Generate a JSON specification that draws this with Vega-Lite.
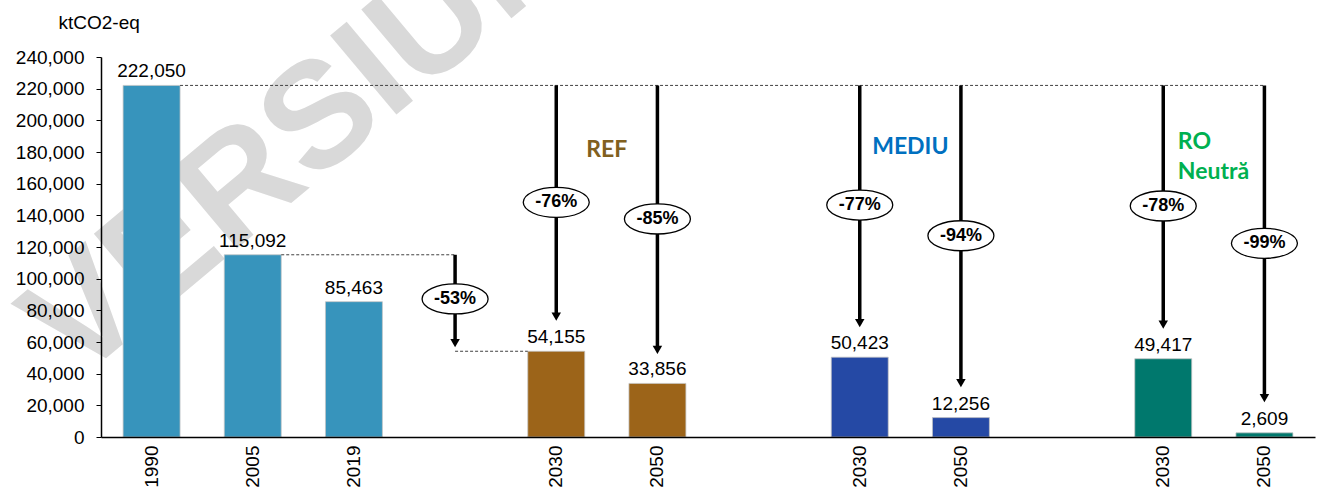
{
  "$schema": "https://vega.github.io/schema/vega-lite/v6.json",
  "autosize": {"type": "none"},
  "padding": {"left": 101, "top": 57, "right": 11, "bottom": 50},
  "width": 1214,
  "height": 380,
  "background": "white",
  "config": {"view": {"stroke": null}, "font": "Liberation Sans"},
  "datasets": {
    "bars": [
      {"cat": "1990", "v": 222050, "grp": "hist"},
      {"cat": "2005", "v": 115092, "grp": "hist"},
      {"cat": "2019", "v": 85463, "grp": "hist"},
      {"cat": "REF 2030", "v": 54155, "grp": "REF"},
      {"cat": "REF 2050", "v": 33856, "grp": "REF"},
      {"cat": "MEDIU 2030", "v": 50423, "grp": "MEDIU"},
      {"cat": "MEDIU 2050", "v": 12256, "grp": "MEDIU"},
      {"cat": "RO 2030", "v": 49417, "grp": "RO"},
      {"cat": "RO 2050", "v": 2609, "grp": "RO"}
    ],
    "arrows": [
      {"cat": "g1", "top": 115092, "head": 59300, "lab": 87200, "pct": "-53%"},
      {"cat": "REF 2030", "top": 222050, "head": 76000, "lab": 148200, "pct": "-76%"},
      {"cat": "REF 2050", "top": 222050, "head": 55000, "lab": 137700, "pct": "-85%"},
      {"cat": "MEDIU 2030", "top": 222050, "head": 71900, "lab": 146500, "pct": "-77%"},
      {"cat": "MEDIU 2050", "top": 222050, "head": 34000, "lab": 127100, "pct": "-94%"},
      {"cat": "RO 2030", "top": 222050, "head": 71000, "lab": 145900, "pct": "-78%"},
      {"cat": "RO 2050", "top": 222050, "head": 24500, "lab": 122300, "pct": "-99%"}
    ],
    "dashA": [
      {"cat": "1990", "cat2": "RO 2050", "y": 222050},
      {"cat": "2005", "cat2": "g1", "y": 115092}
    ],
    "dashB": [
      {"cat": "g1", "cat2": "REF 2030", "y": 54155}
    ],
    "scen": [
      {"cat": "REF 2030", "y": 181300, "t": "REF", "c": "REF"},
      {"cat": "MEDIU 2030", "y": 183400, "t": "MEDIU", "c": "MEDIU"}
    ],
    "scenRO": [
      {"cat": "RO 2030", "y": 186500, "t": "RO\nNeutră"}
    ],
    "wm": [
      {"cat": "1990", "y": 20800, "t": "VERSIUNE"}
    ]
  },
  "layer": [
    {
      "data": {"name": "wm"},
      "mark": {"type": "text", "font": "Liberation Sans", "fontWeight": "bold", "fontSize": 150, "angle": -40, "align": "left", "baseline": "alphabetic", "color": "#d9d9d9", "dx": -23, "dy": -46},
      "encoding": {
        "x": {"field": "cat", "type": "nominal", "bandPosition": 0, "scale": {"domain": ["1990", "2005", "2019", "g1", "REF 2030", "REF 2050", "g2", "MEDIU 2030", "MEDIU 2050", "g3", "RO 2030", "RO 2050"], "paddingInner": 0.437, "paddingOuter": 0.2185}, "axis": {"title": null, "ticks": false, "domainColor": "black", "domainWidth": 1.5, "labelAngle": 270, "labelFontSize": 19, "labelFont": "Liberation Sans", "labelColor": "black", "labelPadding": 8, "labelOverlap": false, "labelExpr": "indexof(datum.value, 'g') == 0 ? '' : slice(datum.value, -4)", "zindex": 1}},
        "y": {"field": "y", "type": "quantitative", "scale": {"domain": [0, 240000], "nice": false}, "axis": {"values": [0, 20000, 40000, 60000, 80000, 100000, 120000, 140000, 160000, 180000, 200000, 220000, 240000], "format": ",.0f", "grid": false, "domainColor": "black", "domainWidth": 1.5, "tickColor": "black", "tickSize": 5, "labelFontSize": 19, "labelFont": "Liberation Sans", "labelColor": "black", "labelPadding": 12, "labelFlush": false, "labelOverlap": false, "title": "ktCO2-eq", "titleAngle": 0, "titleAlign": "left", "titleBaseline": "alphabetic", "titleX": -43, "titleY": -29, "titleFontSize": 19, "titleFont": "Liberation Sans", "titleFontWeight": "normal", "titleColor": "black", "zindex": 1}},
        "text": {"field": "t"}
      }
    },
    {
      "data": {"name": "bars"},
      "mark": {"type": "bar", "stroke": "#c4c4c4", "strokeWidth": 0.75},
      "encoding": {
        "x": {"field": "cat", "type": "nominal", "scale": {"domain": ["1990", "2005", "2019", "g1", "REF 2030", "REF 2050", "g2", "MEDIU 2030", "MEDIU 2050", "g3", "RO 2030", "RO 2050"], "paddingInner": 0.437, "paddingOuter": 0.2185}, "axis": {"title": null, "ticks": false, "domainColor": "black", "domainWidth": 1.5, "labelAngle": 270, "labelFontSize": 19, "labelFont": "Liberation Sans", "labelColor": "black", "labelPadding": 8, "labelOverlap": false, "labelExpr": "indexof(datum.value, 'g') == 0 ? '' : slice(datum.value, -4)", "zindex": 1}},
        "y": {"field": "v", "type": "quantitative", "axis": {"values": [0, 20000, 40000, 60000, 80000, 100000, 120000, 140000, 160000, 180000, 200000, 220000, 240000], "format": ",.0f", "grid": false, "domainColor": "black", "domainWidth": 1.5, "tickColor": "black", "tickSize": 5, "labelFontSize": 19, "labelFont": "Liberation Sans", "labelColor": "black", "labelPadding": 12, "labelFlush": false, "labelOverlap": false, "title": "ktCO2-eq", "titleAngle": 0, "titleAlign": "left", "titleBaseline": "alphabetic", "titleX": -43, "titleY": -29, "titleFontSize": 19, "titleFont": "Liberation Sans", "titleFontWeight": "normal", "titleColor": "black", "zindex": 1}},
        "color": {"field": "grp", "type": "nominal", "scale": {"domain": ["hist", "REF", "MEDIU", "RO"], "range": ["#3794BC", "#9C6419", "#2549A5", "#00786D"]}, "legend": null}
      }
    },
    {
      "data": {"name": "bars"},
      "mark": {"type": "text", "fontSize": 19, "font": "Liberation Sans", "color": "black", "baseline": "alphabetic", "dy": -8},
      "encoding": {
        "x": {"field": "cat", "type": "nominal", "scale": {"domain": ["1990", "2005", "2019", "g1", "REF 2030", "REF 2050", "g2", "MEDIU 2030", "MEDIU 2050", "g3", "RO 2030", "RO 2050"], "paddingInner": 0.437, "paddingOuter": 0.2185}, "axis": {"title": null, "ticks": false, "domainColor": "black", "domainWidth": 1.5, "labelAngle": 270, "labelFontSize": 19, "labelFont": "Liberation Sans", "labelColor": "black", "labelPadding": 8, "labelOverlap": false, "labelExpr": "indexof(datum.value, 'g') == 0 ? '' : slice(datum.value, -4)", "zindex": 1}},
        "y": {"field": "v", "type": "quantitative", "axis": {"values": [0, 20000, 40000, 60000, 80000, 100000, 120000, 140000, 160000, 180000, 200000, 220000, 240000], "format": ",.0f", "grid": false, "domainColor": "black", "domainWidth": 1.5, "tickColor": "black", "tickSize": 5, "labelFontSize": 19, "labelFont": "Liberation Sans", "labelColor": "black", "labelPadding": 12, "labelFlush": false, "labelOverlap": false, "title": "ktCO2-eq", "titleAngle": 0, "titleAlign": "left", "titleBaseline": "alphabetic", "titleX": -43, "titleY": -29, "titleFontSize": 19, "titleFont": "Liberation Sans", "titleFontWeight": "normal", "titleColor": "black", "zindex": 1}},
        "text": {"field": "v", "type": "quantitative", "format": ","}
      }
    },
    {
      "data": {"name": "dashA"},
      "mark": {"type": "rule", "color": "#404040", "strokeWidth": 1, "strokeDash": [3, 2]},
      "encoding": {
        "x": {"field": "cat", "type": "nominal", "bandPosition": 1, "scale": {"domain": ["1990", "2005", "2019", "g1", "REF 2030", "REF 2050", "g2", "MEDIU 2030", "MEDIU 2050", "g3", "RO 2030", "RO 2050"], "paddingInner": 0.437, "paddingOuter": 0.2185}, "axis": {"title": null, "ticks": false, "domainColor": "black", "domainWidth": 1.5, "labelAngle": 270, "labelFontSize": 19, "labelFont": "Liberation Sans", "labelColor": "black", "labelPadding": 8, "labelOverlap": false, "labelExpr": "indexof(datum.value, 'g') == 0 ? '' : slice(datum.value, -4)", "zindex": 1}},
        "x2": {"field": "cat2", "bandPosition": 0.5},
        "y": {"field": "y", "type": "quantitative", "axis": {"values": [0, 20000, 40000, 60000, 80000, 100000, 120000, 140000, 160000, 180000, 200000, 220000, 240000], "format": ",.0f", "grid": false, "domainColor": "black", "domainWidth": 1.5, "tickColor": "black", "tickSize": 5, "labelFontSize": 19, "labelFont": "Liberation Sans", "labelColor": "black", "labelPadding": 12, "labelFlush": false, "labelOverlap": false, "title": "ktCO2-eq", "titleAngle": 0, "titleAlign": "left", "titleBaseline": "alphabetic", "titleX": -43, "titleY": -29, "titleFontSize": 19, "titleFont": "Liberation Sans", "titleFontWeight": "normal", "titleColor": "black", "zindex": 1}}
      }
    },
    {
      "data": {"name": "dashB"},
      "mark": {"type": "rule", "color": "#404040", "strokeWidth": 1, "strokeDash": [3, 2]},
      "encoding": {
        "x": {"field": "cat", "type": "nominal", "bandPosition": 0.5, "scale": {"domain": ["1990", "2005", "2019", "g1", "REF 2030", "REF 2050", "g2", "MEDIU 2030", "MEDIU 2050", "g3", "RO 2030", "RO 2050"], "paddingInner": 0.437, "paddingOuter": 0.2185}, "axis": {"title": null, "ticks": false, "domainColor": "black", "domainWidth": 1.5, "labelAngle": 270, "labelFontSize": 19, "labelFont": "Liberation Sans", "labelColor": "black", "labelPadding": 8, "labelOverlap": false, "labelExpr": "indexof(datum.value, 'g') == 0 ? '' : slice(datum.value, -4)", "zindex": 1}},
        "x2": {"field": "cat2", "bandPosition": 0},
        "y": {"field": "y", "type": "quantitative", "axis": {"values": [0, 20000, 40000, 60000, 80000, 100000, 120000, 140000, 160000, 180000, 200000, 220000, 240000], "format": ",.0f", "grid": false, "domainColor": "black", "domainWidth": 1.5, "tickColor": "black", "tickSize": 5, "labelFontSize": 19, "labelFont": "Liberation Sans", "labelColor": "black", "labelPadding": 12, "labelFlush": false, "labelOverlap": false, "title": "ktCO2-eq", "titleAngle": 0, "titleAlign": "left", "titleBaseline": "alphabetic", "titleX": -43, "titleY": -29, "titleFontSize": 19, "titleFont": "Liberation Sans", "titleFontWeight": "normal", "titleColor": "black", "zindex": 1}}
      }
    },
    {
      "data": {"name": "arrows"},
      "mark": {"type": "rule", "color": "black", "strokeWidth": 3.5},
      "encoding": {
        "x": {"field": "cat", "type": "nominal", "scale": {"domain": ["1990", "2005", "2019", "g1", "REF 2030", "REF 2050", "g2", "MEDIU 2030", "MEDIU 2050", "g3", "RO 2030", "RO 2050"], "paddingInner": 0.437, "paddingOuter": 0.2185}, "axis": {"title": null, "ticks": false, "domainColor": "black", "domainWidth": 1.5, "labelAngle": 270, "labelFontSize": 19, "labelFont": "Liberation Sans", "labelColor": "black", "labelPadding": 8, "labelOverlap": false, "labelExpr": "indexof(datum.value, 'g') == 0 ? '' : slice(datum.value, -4)", "zindex": 1}},
        "y": {"field": "top", "type": "quantitative", "axis": {"values": [0, 20000, 40000, 60000, 80000, 100000, 120000, 140000, 160000, 180000, 200000, 220000, 240000], "format": ",.0f", "grid": false, "domainColor": "black", "domainWidth": 1.5, "tickColor": "black", "tickSize": 5, "labelFontSize": 19, "labelFont": "Liberation Sans", "labelColor": "black", "labelPadding": 12, "labelFlush": false, "labelOverlap": false, "title": "ktCO2-eq", "titleAngle": 0, "titleAlign": "left", "titleBaseline": "alphabetic", "titleX": -43, "titleY": -29, "titleFontSize": 19, "titleFont": "Liberation Sans", "titleFontWeight": "normal", "titleColor": "black", "zindex": 1}},
        "y2": {"field": "head"}
      }
    },
    {
      "data": {"name": "arrows"},
      "mark": {"type": "point", "shape": "triangle-down", "size": 90, "filled": true, "color": "black", "opacity": 1},
      "encoding": {
        "x": {"field": "cat", "type": "nominal", "scale": {"domain": ["1990", "2005", "2019", "g1", "REF 2030", "REF 2050", "g2", "MEDIU 2030", "MEDIU 2050", "g3", "RO 2030", "RO 2050"], "paddingInner": 0.437, "paddingOuter": 0.2185}, "axis": {"title": null, "ticks": false, "domainColor": "black", "domainWidth": 1.5, "labelAngle": 270, "labelFontSize": 19, "labelFont": "Liberation Sans", "labelColor": "black", "labelPadding": 8, "labelOverlap": false, "labelExpr": "indexof(datum.value, 'g') == 0 ? '' : slice(datum.value, -4)", "zindex": 1}},
        "y": {"field": "head", "type": "quantitative", "axis": {"values": [0, 20000, 40000, 60000, 80000, 100000, 120000, 140000, 160000, 180000, 200000, 220000, 240000], "format": ",.0f", "grid": false, "domainColor": "black", "domainWidth": 1.5, "tickColor": "black", "tickSize": 5, "labelFontSize": 19, "labelFont": "Liberation Sans", "labelColor": "black", "labelPadding": 12, "labelFlush": false, "labelOverlap": false, "title": "ktCO2-eq", "titleAngle": 0, "titleAlign": "left", "titleBaseline": "alphabetic", "titleX": -43, "titleY": -29, "titleFontSize": 19, "titleFont": "Liberation Sans", "titleFontWeight": "normal", "titleColor": "black", "zindex": 1}}
      }
    },
    {
      "data": {"name": "arrows"},
      "mark": {"type": "point", "shape": "M-1,0C-1,-0.2513,-0.5523,-0.455,0,-0.455C0.5523,-0.455,1,-0.2513,1,0C1,0.2513,0.5523,0.455,0,0.455C-0.5523,0.455,-1,0.2513,-1,0Z", "size": 4356, "filled": true, "fill": "white", "stroke": "black", "strokeWidth": 1.3, "opacity": 1},
      "encoding": {
        "x": {"field": "cat", "type": "nominal", "scale": {"domain": ["1990", "2005", "2019", "g1", "REF 2030", "REF 2050", "g2", "MEDIU 2030", "MEDIU 2050", "g3", "RO 2030", "RO 2050"], "paddingInner": 0.437, "paddingOuter": 0.2185}, "axis": {"title": null, "ticks": false, "domainColor": "black", "domainWidth": 1.5, "labelAngle": 270, "labelFontSize": 19, "labelFont": "Liberation Sans", "labelColor": "black", "labelPadding": 8, "labelOverlap": false, "labelExpr": "indexof(datum.value, 'g') == 0 ? '' : slice(datum.value, -4)", "zindex": 1}},
        "y": {"field": "lab", "type": "quantitative", "axis": {"values": [0, 20000, 40000, 60000, 80000, 100000, 120000, 140000, 160000, 180000, 200000, 220000, 240000], "format": ",.0f", "grid": false, "domainColor": "black", "domainWidth": 1.5, "tickColor": "black", "tickSize": 5, "labelFontSize": 19, "labelFont": "Liberation Sans", "labelColor": "black", "labelPadding": 12, "labelFlush": false, "labelOverlap": false, "title": "ktCO2-eq", "titleAngle": 0, "titleAlign": "left", "titleBaseline": "alphabetic", "titleX": -43, "titleY": -29, "titleFontSize": 19, "titleFont": "Liberation Sans", "titleFontWeight": "normal", "titleColor": "black", "zindex": 1}}
      }
    },
    {
      "data": {"name": "arrows"},
      "mark": {"type": "text", "fontSize": 18, "fontWeight": "bold", "font": "Liberation Sans", "color": "black", "baseline": "middle"},
      "encoding": {
        "x": {"field": "cat", "type": "nominal", "scale": {"domain": ["1990", "2005", "2019", "g1", "REF 2030", "REF 2050", "g2", "MEDIU 2030", "MEDIU 2050", "g3", "RO 2030", "RO 2050"], "paddingInner": 0.437, "paddingOuter": 0.2185}, "axis": {"title": null, "ticks": false, "domainColor": "black", "domainWidth": 1.5, "labelAngle": 270, "labelFontSize": 19, "labelFont": "Liberation Sans", "labelColor": "black", "labelPadding": 8, "labelOverlap": false, "labelExpr": "indexof(datum.value, 'g') == 0 ? '' : slice(datum.value, -4)", "zindex": 1}},
        "y": {"field": "lab", "type": "quantitative", "axis": {"values": [0, 20000, 40000, 60000, 80000, 100000, 120000, 140000, 160000, 180000, 200000, 220000, 240000], "format": ",.0f", "grid": false, "domainColor": "black", "domainWidth": 1.5, "tickColor": "black", "tickSize": 5, "labelFontSize": 19, "labelFont": "Liberation Sans", "labelColor": "black", "labelPadding": 12, "labelFlush": false, "labelOverlap": false, "title": "ktCO2-eq", "titleAngle": 0, "titleAlign": "left", "titleBaseline": "alphabetic", "titleX": -43, "titleY": -29, "titleFontSize": 19, "titleFont": "Liberation Sans", "titleFontWeight": "normal", "titleColor": "black", "zindex": 1}},
        "text": {"field": "pct"}
      }
    },
    {
      "data": {"name": "scen"},
      "mark": {"type": "text", "fontSize": 23, "fontWeight": "bold", "font": "Lato", "baseline": "middle", "align": "center"},
      "encoding": {
        "x": {"field": "cat", "type": "nominal", "bandPosition": 1.388, "scale": {"domain": ["1990", "2005", "2019", "g1", "REF 2030", "REF 2050", "g2", "MEDIU 2030", "MEDIU 2050", "g3", "RO 2030", "RO 2050"], "paddingInner": 0.437, "paddingOuter": 0.2185}, "axis": {"title": null, "ticks": false, "domainColor": "black", "domainWidth": 1.5, "labelAngle": 270, "labelFontSize": 19, "labelFont": "Liberation Sans", "labelColor": "black", "labelPadding": 8, "labelOverlap": false, "labelExpr": "indexof(datum.value, 'g') == 0 ? '' : slice(datum.value, -4)", "zindex": 1}},
        "y": {"field": "y", "type": "quantitative", "axis": {"values": [0, 20000, 40000, 60000, 80000, 100000, 120000, 140000, 160000, 180000, 200000, 220000, 240000], "format": ",.0f", "grid": false, "domainColor": "black", "domainWidth": 1.5, "tickColor": "black", "tickSize": 5, "labelFontSize": 19, "labelFont": "Liberation Sans", "labelColor": "black", "labelPadding": 12, "labelFlush": false, "labelOverlap": false, "title": "ktCO2-eq", "titleAngle": 0, "titleAlign": "left", "titleBaseline": "alphabetic", "titleX": -43, "titleY": -29, "titleFontSize": 19, "titleFont": "Liberation Sans", "titleFontWeight": "normal", "titleColor": "black", "zindex": 1}},
        "text": {"field": "t"},
        "color": {"field": "c", "type": "nominal", "scale": {"domain": ["REF", "MEDIU"], "range": ["#806020", "#0070C0"]}, "legend": null}
      }
    },
    {
      "data": {"name": "scenRO"},
      "mark": {"type": "text", "fontSize": 23, "fontWeight": "bold", "font": "Lato", "baseline": "middle", "align": "left", "dx": -36, "lineBreak": "\n", "lineHeight": 30, "color": "#00B050"},
      "encoding": {
        "x": {"field": "cat", "type": "nominal", "bandPosition": 1.388, "scale": {"domain": ["1990", "2005", "2019", "g1", "REF 2030", "REF 2050", "g2", "MEDIU 2030", "MEDIU 2050", "g3", "RO 2030", "RO 2050"], "paddingInner": 0.437, "paddingOuter": 0.2185}, "axis": {"title": null, "ticks": false, "domainColor": "black", "domainWidth": 1.5, "labelAngle": 270, "labelFontSize": 19, "labelFont": "Liberation Sans", "labelColor": "black", "labelPadding": 8, "labelOverlap": false, "labelExpr": "indexof(datum.value, 'g') == 0 ? '' : slice(datum.value, -4)", "zindex": 1}},
        "y": {"field": "y", "type": "quantitative", "axis": {"values": [0, 20000, 40000, 60000, 80000, 100000, 120000, 140000, 160000, 180000, 200000, 220000, 240000], "format": ",.0f", "grid": false, "domainColor": "black", "domainWidth": 1.5, "tickColor": "black", "tickSize": 5, "labelFontSize": 19, "labelFont": "Liberation Sans", "labelColor": "black", "labelPadding": 12, "labelFlush": false, "labelOverlap": false, "title": "ktCO2-eq", "titleAngle": 0, "titleAlign": "left", "titleBaseline": "alphabetic", "titleX": -43, "titleY": -29, "titleFontSize": 19, "titleFont": "Liberation Sans", "titleFontWeight": "normal", "titleColor": "black", "zindex": 1}},
        "text": {"field": "t"}
      }
    }
  ],
  "resolve": {"scale": {"color": "independent"}}
}
